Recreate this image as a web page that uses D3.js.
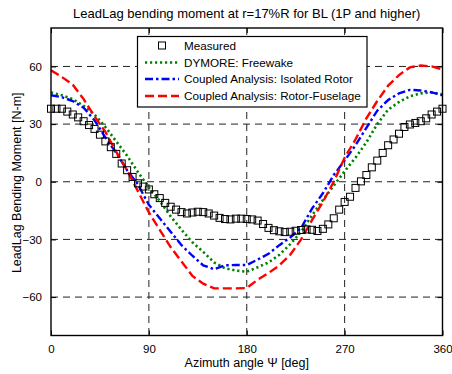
<!DOCTYPE html>
<html>
<head>
<meta charset="utf-8">
<script src="https://cdn.jsdelivr.net/npm/d3@7"></script>
<style>
  html, body { margin: 0; padding: 0; background: #fff; }
  svg { display: block; font-family: "Liberation Sans", Arial, sans-serif; }
</style>
</head>
<body>
<svg id="chart" width="452" height="374"></svg>
<script>
// Lead-lag bending moment at r = 17%R, blade BL, 1P and higher harmonics
const xTicks = [0, 90, 180, 270, 360];
const yTicks = [-60, -30, 0, 30, 60];

// Measured data, every 5 deg of azimuth
const measuredAz = d3.range(0, 361, 5);
const measuredVal = [
  38, 38, 38, 36.5, 35, 33.5, 31.5, 29.5, 27.5, 24.5,
  21, 18, 14.5, 9.5, 6, 2.5, -0.8, -2.5, -4, -6.5,
  -8.5, -11, -13, -14.5, -15.8, -16.5, -16, -15.6, -15.8, -16.5,
  -17.6, -18.8, -19.4, -19.6, -19.2, -19.2, -19.4, -19.6, -20.2, -22,
  -24, -25.2, -25.8, -26.2, -26, -25.5, -25.1, -24.8, -25, -25.6,
  -24.5, -22.2, -19, -14.5, -10.5, -7.8, -3.2, 0.2, 3.5, 7.5,
  11, 15, 19, 22, 25, 28.5, 29.8, 30.6, 31.5, 33,
  35, 36.5, 38
];

// Analysis results, every 10 deg of azimuth
const analysisAz = d3.range(0, 361, 10);
const dymoreVal = [
  46.5, 45, 43, 39.5, 35, 28.5, 21, 13.5, 5, -3,
  -10, -18, -25, -31.5, -36.5, -42, -45, -46.2, -46.8, -44.5,
  -42, -38, -32.5, -26, -17.5, -9.5, -2, 5.5, 12.5, 20.5,
  30, 37.5, 41.5, 44.5, 46, 46.5, 45.5
];
const isolatedVal = [
  45, 44, 42, 38.5, 32, 23, 15, 6, -1.5, -12,
  -19, -26, -33, -38.5, -43.5, -45.5, -43.5, -43.3, -43.3, -40.5,
  -37.5, -33, -29, -24, -14, -6, 3.5, 11, 19, 28,
  37, 42.5, 46, 47.8, 47.5, 46.5, 45
];
const fuselageVal = [
  58, 54.5, 50.5, 43, 34, 26, 15.5, 6, -5, -16,
  -25, -34, -41.5, -49, -53, -55.5, -55.5, -55.5, -55.3, -51,
  -47.5, -43.5, -38, -30, -20, -10.5, 0, 12.5, 22, 33,
  42, 50, 55.5, 59.5, 60.5, 60, 58.5
];

const seriesNames = [
  "Measured",
  "DYMORE: Freewake",
  "Coupled Analysis: Isolated Rotor",
  "Coupled Analysis: Rotor-Fuselage"
];

const svg = d3.select("#chart");
const plot = { left: 51, right: 442.5, top: 28, bottom: 335.5 };

const x = d3.scaleLinear().domain([0, 360]).range([plot.left, plot.right]);
const y = d3.scaleLinear().domain([-80, 80]).range([plot.bottom, plot.top]);

// grid
const grid = svg.append("g").attr("stroke", "#222").attr("stroke-width", 1)
  .attr("stroke-dasharray", "7,5").attr("fill", "none");
xTicks.slice(1, -1).forEach(t => {
  grid.append("line").attr("x1", x(t)).attr("x2", x(t))
    .attr("y1", plot.top).attr("y2", plot.bottom);
});
yTicks.forEach(t => {
  grid.append("line").attr("x1", plot.left).attr("x2", plot.right)
    .attr("y1", y(t)).attr("y2", y(t));
});

// axes with inward ticks on all four sides
const tickLen = 5;
const axB = d3.axisBottom(x).tickValues(xTicks).tickSizeInner(-tickLen).tickSizeOuter(0).tickPadding(9);
const axL = d3.axisLeft(y).tickValues(yTicks).tickSizeInner(-tickLen).tickSizeOuter(0).tickPadding(9);
const axT = d3.axisTop(x).tickValues(xTicks).tickSizeInner(-tickLen).tickSizeOuter(0).tickFormat("");
const axR = d3.axisRight(y).tickValues(yTicks).tickSizeInner(-tickLen).tickSizeOuter(0).tickFormat("");

function styleAxis(g) {
  g.select(".domain").remove();
  g.selectAll(".tick line").attr("stroke", "#000").attr("stroke-width", 1);
  g.selectAll(".tick text").attr("fill", "#000").attr("font-size", 11.5)
    .attr("font-family", "Liberation Sans, Arial, sans-serif");
}
svg.append("g").attr("transform", `translate(0,${plot.bottom})`).call(axB).call(styleAxis);
svg.append("g").attr("transform", `translate(${plot.left},0)`).call(axL).call(styleAxis);
svg.append("g").attr("transform", `translate(0,${plot.top})`).call(axT).call(styleAxis);
svg.append("g").attr("transform", `translate(${plot.right},0)`).call(axR).call(styleAxis);

// clip region for curves
svg.append("clipPath").attr("id", "plotClip").append("rect")
  .attr("x", plot.left).attr("y", plot.top)
  .attr("width", plot.right - plot.left).attr("height", plot.bottom - plot.top);

const line = d3.line().x(d => x(d[0])).y(d => y(d[1]));
const curves = [
  { vals: dymoreVal, color: "#008000", dash: "2.2,2.8", width: 2.6 },
  { vals: isolatedVal, color: "#0000ff", dash: "8,3,2.5,3", width: 2.4 },
  { vals: fuselageVal, color: "#ff0000", dash: "9,4", width: 2.4 }
];
const curveG = svg.append("g").attr("clip-path", "url(#plotClip)");
curves.forEach(c => {
  curveG.append("path")
    .datum(analysisAz.map((a, i) => [a, c.vals[i]]))
    .attr("d", line)
    .attr("fill", "none")
    .attr("stroke", c.color)
    .attr("stroke-width", c.width)
    .attr("stroke-dasharray", c.dash);
});

// measured markers
const sq = 7;
svg.append("g").selectAll("rect")
  .data(measuredAz.map((a, i) => [a, measuredVal[i]]))
  .join("rect")
  .attr("x", d => x(d[0]) - sq / 2)
  .attr("y", d => y(d[1]) - sq / 2)
  .attr("width", sq).attr("height", sq)
  .attr("fill", "none").attr("stroke", "#000").attr("stroke-width", 1);

// plot frame
svg.append("rect")
  .attr("x", plot.left).attr("y", plot.top)
  .attr("width", plot.right - plot.left).attr("height", plot.bottom - plot.top)
  .attr("fill", "none").attr("stroke", "#000").attr("stroke-width", 1.4);

// legend
const lg = svg.append("g");
lg.append("rect").attr("x", 137.5).attr("y", 36.5).attr("width", 229.5).attr("height", 70.5)
  .attr("fill", "#fff").attr("stroke", "#000").attr("stroke-width", 1.2);
const rowY = [45.5, 62.5, 79, 96];
lg.append("rect").attr("x", 162 - sq / 2).attr("y", rowY[0] - sq / 2)
  .attr("width", sq).attr("height", sq)
  .attr("fill", "none").attr("stroke", "#000").attr("stroke-width", 1);
curves.forEach((c, i) => {
  lg.append("line").attr("x1", 145).attr("x2", 179)
    .attr("y1", rowY[i + 1]).attr("y2", rowY[i + 1])
    .attr("stroke", c.color).attr("stroke-width", c.width)
    .attr("stroke-dasharray", c.dash);
});
seriesNames.forEach((name, i) => {
  lg.append("text").attr("x", 184).attr("y", rowY[i]).attr("dy", "0.35em")
    .attr("font-size", 11.7).attr("fill", "#000").text(name);
});

// titles
svg.append("text").attr("x", (plot.left + plot.right) / 2).attr("y", 18)
  .attr("text-anchor", "middle").attr("font-size", 13).attr("fill", "#000")
  .text("LeadLag bending moment at r=17%R for BL (1P and higher)");
svg.append("text").attr("x", (plot.left + plot.right) / 2).attr("y", 367)
  .attr("text-anchor", "middle").attr("font-size", 12.5).attr("fill", "#000")
  .text("Azimuth angle \u03A8 [deg]");
svg.append("text")
  .attr("transform", `translate(21,${(plot.top + plot.bottom) / 2 + 1}) rotate(-90)`)
  .attr("text-anchor", "middle").attr("font-size", 12.5).attr("fill", "#000")
  .text("LeadLag Bending Moment [N-m]");
</script>
</body>
</html>
